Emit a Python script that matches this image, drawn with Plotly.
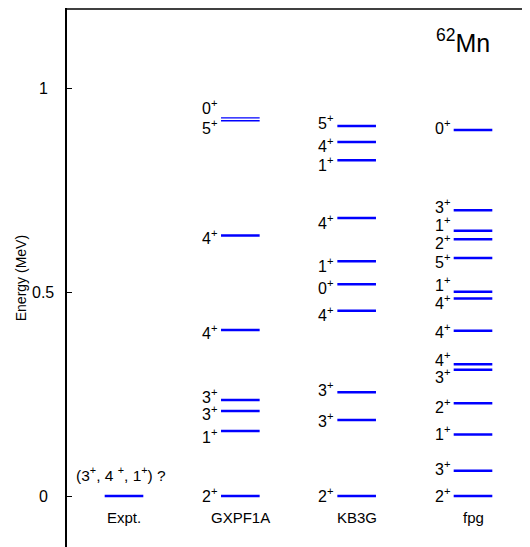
import plotly.graph_objects as go

# ---------------- data ----------------
categories = ["Expt.", "GXPF1A", "KB3G", "fpg"]
cat_pos = [1, 2, 3, 4]

expt_E = [0.0]
expt_label = "(3<sup>+</sup>, 4 <sup>+</sup>, 1<sup>+</sup>) ?"

gxpf1a_E = [0.0, 0.160, 0.209, 0.236, 0.408, 0.640]
gxpf1a_J = ["2", "1", "3", "3", "4", "4"]
gxpf1a_close_E = [0.922, 0.929]   # nearly degenerate pair
gxpf1a_close_J = ["5", "0"]

kb3g_E = [0.0, 0.187, 0.255, 0.455, 0.520, 0.577, 0.683, 0.825, 0.870, 0.909]
kb3g_J = ["2", "3", "3", "4", "0", "1", "4", "1", "4", "5"]

fpg_E = [0.0, 0.062, 0.151, 0.228, 0.310, 0.324, 0.406, 0.485, 0.502,
         0.585, 0.631, 0.652, 0.702, 0.899]
fpg_J = ["2", "3", "1", "2", "3", "4", "4", "4", "1", "5", "2", "1", "3", "0"]

y_ticks = [0, 0.5, 1]
y_tick_text = ["0", "0.5", "1"]
nucleus = "<sup>62</sup>Mn"

# ---------------- styling ----------------
HALF = 0.166
BLUE = "#0000ff"
FONT = "Liberation Sans, Arial, sans-serif"

# label vertical offsets (pixels, positive = down) to avoid overlaps
gx_off = [1, 7, 4.5, -1.5, 4, 3]
gx_close_off = [8, -9]
kb_off = [1, 2, -1, 5, 4.5, 6, 6, 6, 5.5, -2]
fpg_off = [1, -1, 0, 5, 8, -3, 2, 5, -6, 5, 5, -5, -2, -1]

fig = go.Figure()


def add_levels(xc, energies, width=2.5):
    xs, ys = [], []
    for e in energies:
        xs += [xc - HALF, xc + HALF, None]
        ys += [e, e, None]
    fig.add_trace(go.Scatter(x=xs, y=ys, mode="lines",
                             line=dict(color=BLUE, width=width),
                             hoverinfo="skip", showlegend=False))


def add_labels(xc, energies, spins, offs, xshift=-3):
    for e, j, o in zip(energies, spins, offs):
        fig.add_annotation(x=xc - HALF, y=e, text=f"{j}<sup>+</sup>",
                           showarrow=False, xanchor="right", yanchor="middle",
                           xshift=xshift, yshift=2 - o, borderpad=0,
                           font=dict(family=FONT, size=16, color="black"))


add_levels(cat_pos[0], expt_E)
add_levels(cat_pos[1], gxpf1a_E)
add_levels(cat_pos[1], gxpf1a_close_E, width=1.3)
add_levels(cat_pos[2], kb3g_E)
add_levels(cat_pos[3], fpg_E)

add_labels(cat_pos[1], gxpf1a_E, gxpf1a_J, gx_off)
add_labels(cat_pos[1], gxpf1a_close_E, gxpf1a_close_J, gx_close_off)
add_labels(cat_pos[2], kb3g_E, kb3g_J, kb_off)
add_labels(cat_pos[3], fpg_E, fpg_J, fpg_off)

# experimental label
fig.add_annotation(x=cat_pos[0], y=expt_E[0], text=expt_label, showarrow=False,
                   xanchor="center", yanchor="bottom", yshift=10, xshift=-3,
                   font=dict(family=FONT, size=15.5, color="black"))

# category names under ground state
for xc, name in zip(cat_pos, categories):
    fig.add_annotation(x=xc, y=0, text=name, showarrow=False,
                       xanchor="center", yanchor="top", yshift=-11,
                       font=dict(family=FONT, size=15, color="black"))

# nucleus label
fig.add_annotation(x=(463 - 67) / 463.0, y=1.118, xref="paper", yref="y",
                   text=nucleus, showarrow=False,
                   xanchor="center", yanchor="middle",
                   font=dict(family=FONT, size=25, color="black"))

# y tick labels (centred like the original)
for v, t in zip(y_ticks, y_tick_text):
    fig.add_annotation(x=0, y=v, xref="paper", text=t, showarrow=False,
                       xanchor="center", yanchor="middle", xshift=-24,
                       font=dict(family=FONT, size=16, color="black"))

fig.add_annotation(x=0, y=0.535, xref="paper", yref="y", text="Energy (MeV)",
                   showarrow=False, textangle=-90, xanchor="center",
                   yanchor="middle", xshift=-46,
                   font=dict(family=FONT, size=14, color="black"))

# top frame line
fig.add_shape(type="line", xref="paper", yref="paper", x0=0, x1=1, y0=0.998,
              y1=0.998, line=dict(color="black", width=1.5))

fig.update_layout(
    width=522, height=539,
    margin=dict(l=59, r=0, t=0, b=0),
    paper_bgcolor="white", plot_bgcolor="white",
    xaxis=dict(range=[0.51, 4.49], showline=False, showticklabels=False,
               ticks="", showgrid=False, zeroline=False, fixedrange=True),
    yaxis=dict(range=[-0.1253, 1.199], showline=True, linecolor="black",
               linewidth=2, tickvals=y_ticks, showticklabels=False,
               ticks="inside", ticklen=5, tickwidth=1, tickcolor="black",
               showgrid=False, zeroline=False, fixedrange=True),
)

fig.write_html("out.html")
